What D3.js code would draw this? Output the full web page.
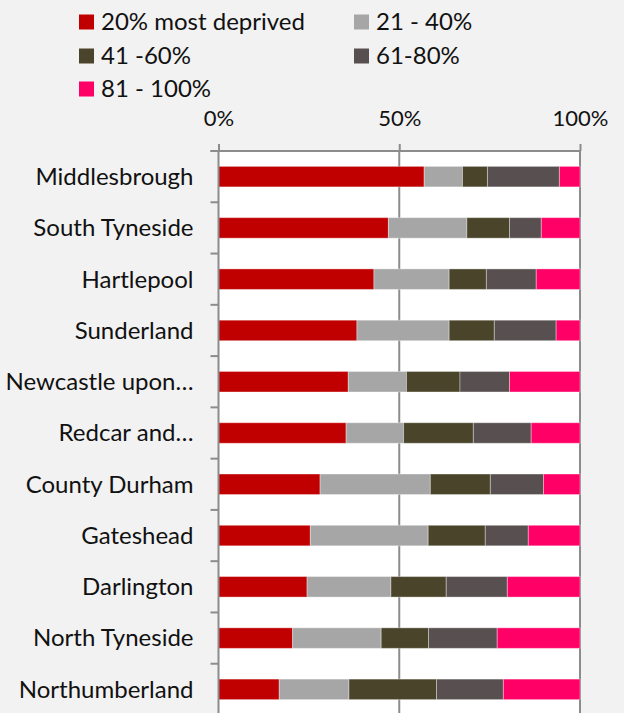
<!DOCTYPE html>
<html><head><meta charset="utf-8">
<script src="https://cdn.jsdelivr.net/npm/d3@7"></script>
<style>html,body{margin:0;padding:0;background:#F2F2F2;overflow:hidden}</style>
</head><body>
<svg id="c" width="624" height="713"></svg>
<script>
const categories = ["Middlesbrough","South Tyneside","Hartlepool","Sunderland","Newcastle upon…","Redcar and…","County Durham","Gateshead","Darlington","North Tyneside","Northumberland"];
const seriesNames = ["20% most deprived","21 - 40%","41 -60%","61-80%","81 - 100%"];
const colors = ["#C00000","#A6A6A6","#4A452A","#585050","#FF0066"];
const s1 = [56.9,47.0,43.0,38.3,35.9,35.3,28.1,25.4,24.5,20.5,16.8];
const s2 = [10.6,21.7,20.8,25.5,16.1,15.9,30.5,32.6,23.2,24.5,19.3];
const s3 = [6.9,11.8,10.3,12.5,14.8,19.3,16.6,15.8,15.3,13.1,24.2];
const s4 = [19.9,8.8,13.8,17.1,13.7,16.0,14.7,11.9,16.9,19.0,18.5];
const s5 = [5.7,10.7,12.1,6.6,19.5,13.5,10.1,14.3,20.1,22.9,21.2];
const tickVals = [0,0.5,1];

const font = "Lato, 'Open Sans', sans-serif";
const svg = d3.select("#c");
const L = 218.5, R = 580, T = 151, B = 715;
const rows = categories.map((c,i)=>({cat:c, v:[s1[i],s2[i],s3[i],s4[i],s5[i]]}));
const stack = d3.stack().keys([0,1,2,3,4]).value((d,k)=>d.v[k]/d3.sum(d.v));
const layers = stack(rows);
const x = d3.scaleLinear().domain([0,1]).range([L,R]);
const y = d3.scaleBand().domain(categories).range([T,B]).paddingInner(0.6).paddingOuter(0.3);

svg.append("rect").attr("x",L).attr("y",T).attr("width",R-L).attr("height",B-T).attr("fill","#fff");

// gridlines
svg.append("g").selectAll("line").data([0.5,1]).join("line")
  .attr("x1",d=>x(d)).attr("x2",d=>x(d)).attr("y1",T).attr("y2",B)
  .attr("stroke","#8C8C8C").attr("stroke-width",2);

// bars
svg.append("g").selectAll("g").data(layers).join("g")
  .attr("fill",(d,i)=>colors[i])
  .selectAll("rect").data(d=>d).join("rect")
  .attr("x",d=>x(d[0])).attr("width",d=>x(d[1])-x(d[0]))
  .attr("y",d=>y(d.data.cat)).attr("height",y.bandwidth())
  .attr("stroke","#ffffff").attr("stroke-opacity",0.35).attr("stroke-width",1);

// top axis
const xa = svg.append("g").attr("transform",`translate(0,${T})`)
  .call(d3.axisTop(x).tickValues(tickVals).tickFormat(d3.format(".0%")).tickSize(7).tickPadding(18.5));
xa.select(".domain").attr("stroke","#8C8C8C").attr("stroke-width",2).attr("d",`M${L-8},0H${R}`);
xa.selectAll(".tick line").attr("stroke","#8C8C8C").attr("stroke-width",2);
xa.selectAll("text").attr("font-family",font).attr("font-size",22).attr("fill","#111");

// left axis
const ya = svg.append("g").attr("transform",`translate(${L},0)`);
ya.append("line").attr("x1",0).attr("x2",0).attr("y1",T).attr("y2",B).attr("stroke","#8C8C8C").attr("stroke-width",2);
ya.selectAll("line.t").data(d3.range(categories.length+1)).join("line").attr("class","t")
  .attr("x1",-8).attr("x2",0).attr("y1",i=>T+i*(B-T)/categories.length).attr("y2",i=>T+i*(B-T)/categories.length)
  .attr("stroke","#8C8C8C").attr("stroke-width",2);
ya.selectAll("text").data(categories).join("text")
  .attr("x",-25).attr("y",d=>y(d)+y.bandwidth()/2).attr("dy","0.35em")
  .attr("text-anchor","end").attr("font-family",font).attr("font-size",24).attr("fill","#111")
  .text(d=>d);

// legend
const legPos = [[79,22],[354,22],[79,56],[354,56],[79,89]];
const lg = svg.append("g");
seriesNames.forEach((n,i)=>{
  const [lx,ly] = legPos[i];
  lg.append("rect").attr("x",lx).attr("y",ly-7.5).attr("width",15).attr("height",15).attr("fill",colors[i]);
  lg.append("text").attr("x",lx+22).attr("y",ly).attr("dy","0.35em")
    .attr("font-family",font).attr("font-size",24).attr("fill","#111").text(n);
});
</script>
</body></html>
